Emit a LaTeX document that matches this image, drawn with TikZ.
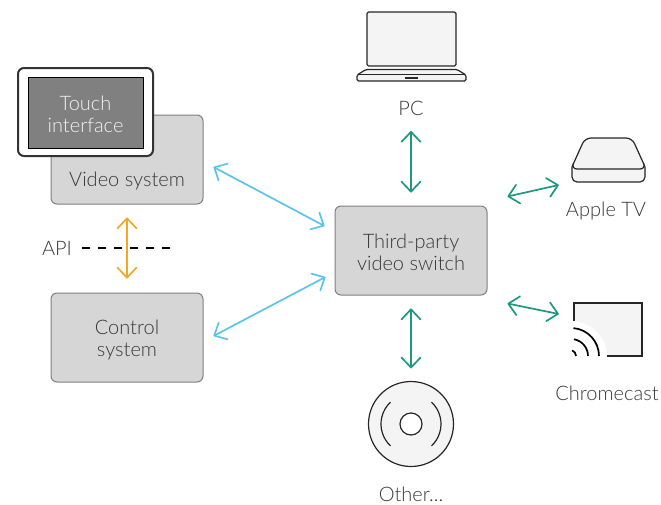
\documentclass[tikz,border=0pt]{standalone}
\usepackage{fontspec}
\setmainfont{Lato}[UprightFont=* Light]
\usetikzlibrary{arrows.meta,positioning}
\definecolor{linkBlue}{HTML}{5CC3EA}
\definecolor{linkGreen}{HTML}{1B9A80}
\definecolor{linkOrange}{HTML}{F5A623}
\newcommand{\lowText}{\rule{0pt}{19pt}}

\begin{document}
\begin{tikzpicture}[
  x=1pt, y=-1pt,
  every node/.style={font=\fontsize{20}{22}\selectfont, text=black!78, align=center},
  grayBox/.style={draw=black!50, line width=1pt, fill=black!16, rounded corners=6pt,
    minimum width=152pt, minimum height=89pt, inner sep=0pt},
  iconBox/.style={minimum width=#1, inner sep=0pt},
  linkTip/.style={{Straight Barb[length=10pt,width=19pt,round]}-{Straight Barb[length=10pt,width=19pt,round]}},
  blueLink/.style={linkTip, draw=linkBlue, line width=1.7pt},
  greenLink/.style={linkTip, draw=linkGreen, line width=1.7pt},
  orangeLink/.style={linkTip, draw=linkOrange, line width=1.7pt},
  iconLine/.style={draw=black!85, line width=1.2pt, fill=black!4.5, line join=round}]
  \useasboundingbox (0,0) rectangle (661,504);

  % left side
  \node[grayBox] (videoSystem) at (127,159.5) {};
  \node (videoLabel) at (127,181) {Video system};
  \node[grayBox] (controlSystem) at (127,337.5) {\lowText Control\\system};
  \node[grayBox, minimum width=135pt, minimum height=88pt, fill=white, draw=black!80,
    line width=2pt] (touchFrame) at (85.5,112) {};
  \node[minimum width=115pt, minimum height=71pt, inner sep=0pt, fill=black!50, draw=black,
    line width=0.8pt, text=white!95!black] (touchScreen) at (85.5,112.5) {\lowText Touch\\interface};
  \node (apiLabel) at (57,248) {API};
  \coordinate (apiEnd) at (173,248);

  % centre
  \node[grayBox] (switchBox) at (411,250.5) {\lowText Third-party\\video switch};

  % laptop
  \node[iconBox=109pt, minimum height=69pt] (laptopIcon) at (411.5,46.5) {};
  \draw[iconLine, rounded corners=1.5pt] (367,66) -- (367,12) -- (456,12) -- (456,66) -- cycle;
  \draw[iconLine, rounded corners=1.5pt] (366,69.5) -- (457,69.5) -- (466,75)
    -- (466,81) -- (357,81) -- (357,75) -- cycle;
  \draw[iconLine, fill=none] (358,74.5) -- (465,74.5);
  \fill[black!85] (405,76.5) rectangle (418,79);
  \node (pcLabel) at (411,108) {PC};

  % apple tv
  \node[iconBox=73pt, minimum height=44pt] (tvIcon) at (608.5,160) {};
  \draw[iconLine, rounded corners=5pt] (572,162) -- (572,182) -- (645,182) -- (645,162) -- cycle;
  \draw[iconLine, rounded corners=6pt] (585,138) -- (632,138) -- (646,169) -- (571,169) -- cycle;
  \node (tvLabel) at (606,211) {Apple TV};

  % chromecast
  \node[iconBox=68pt, minimum height=53pt] (castIcon) at (608,329.5) {};
  \fill[black!4.5] (574,303) rectangle (642,356);
  \draw[black!85, line width=1.2pt] (574,324) -- (574,303) -- (642,303) -- (642,356) -- (607,356);
  \fill[white] (571,357) -- (607,357) arc[start angle=0, end angle=90, radius=36pt] -- cycle;
  \fill[white] (560,320) rectangle (573.4,360);
  \draw[black, line width=1.7pt] (599,356) arc[start angle=0, end angle=85, radius=28pt];
  \draw[black, line width=1.7pt] (588,356) arc[start angle=0, end angle=80, radius=17pt];
  \draw[black, line width=1.7pt] (576,356) arc[start angle=0, end angle=70, radius=6pt];
  \node (castLabel) at (607,393) {Chromecast};

  % disc
  \node[circle, minimum size=85pt, inner sep=0pt, iconLine] (discIcon) at (411,424) {};
  \node[circle, minimum size=22pt, inner sep=0pt, iconLine, fill=white] (discHole) at (discIcon) {};
  \draw[iconLine, fill=none] (discIcon.center) ++(47:30) arc[start angle=-47, end angle=47, radius=30pt];
  \draw[iconLine, fill=none] (discIcon.center) ++(133:30) arc[start angle=227, end angle=133, radius=30pt];
  \node (otherLabel) at (411,494) {Other...};

  % links
  \draw[black, line width=1.6pt, dash pattern=on 8pt off 8pt]
    ([shift={(7,0)}]apiLabel.east) -- (apiEnd);
  \draw[orangeLink] ([shift={(0,13)}]videoSystem.south) -- ([shift={(0,-14)}]controlSystem.north);
  \draw[blueLink] ([shift={(10,7.5)}]videoSystem.east) -- ([shift={(-10,-24.5)}]switchBox.west);
  \draw[blueLink] ([shift={(10,-1.5)}]controlSystem.east) -- ([shift={(-9,26.5)}]switchBox.west);
  \draw[greenLink] ([shift={(0,23)}]pcLabel.center) -- ([shift={(0,-13)}]switchBox.north);
  \draw[greenLink] ([shift={(20,-9)}]switchBox.north east) -- ([shift={(-13,25)}]tvIcon.west);
  \draw[greenLink] ([shift={(20,8)}]switchBox.south east) -- ([shift={(-15,-15.5)}]castIcon.west);
  \draw[greenLink] ([shift={(0,13)}]switchBox.south) -- ([shift={(0,-12.5)}]discIcon.north);
\end{tikzpicture}
\end{document}
